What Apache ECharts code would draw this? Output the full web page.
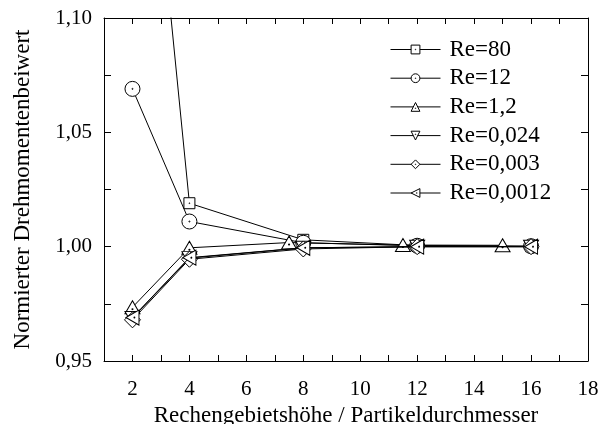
<!DOCTYPE html>
<html>
<head>
<meta charset="utf-8">
<script src="https://cdn.jsdelivr.net/npm/echarts@6/dist/echarts.min.js"></script>
<style>
html,body{margin:0;padding:0;background:#fff;}
#chart{width:608px;height:424px;}
</style>
</head>
<body>
<div id="chart"></div>
<script>
// Data
var seriesNames = ['Re=80', 'Re=12', 'Re=1,2', 'Re=0,024', 'Re=0,003', 'Re=0,0012'];
var re80    = [[2, 1.27],   [4, 1.019],  [8, 1.003],   [12, 1.0005], [16, 1.0002]];
var re12    = [[2, 1.069],  [4, 1.011],  [8, 1.0017],  [12, 1.0004], [16, 1.0002]];
var re1_2   = [[2, 0.9735], [4, 0.9995], [7.5, 1.0018],[11.5, 1.0007],[15, 1.0006]];
var re0_024 = [[2, 0.9688], [4, 0.995],  [8, 0.9995],  [12, 1.0],    [16, 1.0]];
var re0_003 = [[2, 0.968],  [4, 0.9945], [8, 0.999],   [12, 1.0],    [16, 1.0]];
var re0_0012= [[2, 0.969],  [4, 0.9952], [8, 0.9995],  [12, 1.0],    [16, 1.0]];
var xTickLabels = ['2','4','6','8','10','12','14','16','18'];
var yTickLabels = ['0,95','1,00','1,05','1,10'];

var FONT = "'Liberation Serif','Times New Roman',serif";
var dot = ' M5.35,5A0.35,0.35,0,1,1,4.65,5A0.35,0.35,0,1,1,5.35,5Z';
var symbols = [
  'path://M0,0L10,0L10,10L0,10Z' + dot,
  'path://M10,5A5,5,0,1,1,0,5A5,5,0,1,1,10,5Z' + dot,
  'path://M5,0L10,10L0,10Z M5.35,6.5A0.35,0.35,0,1,1,4.65,6.5A0.35,0.35,0,1,1,5.35,6.5Z',
  'path://M0,0L10,0L5,10Z M5.35,3.5A0.35,0.35,0,1,1,4.65,3.5A0.35,0.35,0,1,1,5.35,3.5Z',
  'path://M5,0L10,5L5,10L0,5Z' + dot,
  'path://M0,5L10,0L10,10Z M6.85,5A0.35,0.35,0,1,1,6.15,5A0.35,0.35,0,1,1,6.85,5Z'
];
var sizes = [[11,11],[15,15],[15,13],[15,13],[16,16],[13,15]];
var datasets = [re80, re12, re1_2, re0_024, re0_003, re0_0012];

var chart = echarts.init(document.getElementById('chart'));

function xFmt(v){ var s = String(v); return xTickLabels.indexOf(s) >= 0 ? s : ''; }
function yFmt(v){
  var s = v.toFixed(2).replace('.', ',');
  return (Math.round(v*1000) % 50 === 0 && yTickLabels.indexOf(s) >= 0) ? s : '';
}

var axisCommon = {
  axisLine: {show: true, onZero: false, lineStyle: {color: '#000', width: 1}},
  splitLine: {show: false}
};

var option = {
  animation: false,
  backgroundColor: '#fff',
  grid: {left: 104, right: 20, top: 18, bottom: 63, containLabel: false, outerBoundsMode: 'none'},
  legend: {
    orient: 'vertical',
    left: 390,
    top: 38,
    padding: 0,
    itemWidth: 50,
    itemHeight: 11,
    itemGap: 5.7,
    lineStyle: {color: '#000', width: 1},
    itemStyle: {color: '#fff', borderColor: '#000', borderWidth: 1},
    textStyle: {fontFamily: FONT, fontSize: 23, color: '#000', lineHeight: 22, padding: [0,0,0,4]},
    data: seriesNames
  },
  xAxis: [
    Object.assign({}, axisCommon, {
      type: 'value', min: 1, max: 18, interval: 1, position: 'bottom',
      axisTick: {show: true, inside: true, length: 6, lineStyle: {color: '#000'}},
      axisLabel: {formatter: xFmt, fontFamily: FONT, fontSize: 21, color: '#000', margin: 18, showMaxLabel: true, showMinLabel: true},
      name: 'Rechengebietshöhe / Partikeldurchmesser',
      nameLocation: 'middle', nameGap: 37,
      nameTextStyle: {fontFamily: FONT, fontSize: 23, color: '#000'}
    }),
    Object.assign({}, axisCommon, {
      type: 'value', min: 1, max: 18, interval: 1, position: 'top',
      axisTick: {show: true, inside: true, length: 6, lineStyle: {color: '#000'}},
      axisLabel: {show: false}
    })
  ],
  yAxis: [
    Object.assign({}, axisCommon, {
      type: 'value', min: 0.95, max: 1.10, interval: 0.025, position: 'left',
      axisTick: {show: true, inside: true, length: 7, lineStyle: {color: '#000'}},
      axisLabel: {formatter: yFmt, fontFamily: FONT, fontSize: 21, color: '#000', margin: 12, showMaxLabel: true, showMinLabel: true},
      name: 'Normierter Drehmomentenbeiwert',
      nameLocation: 'middle', nameGap: 70,
      nameTextStyle: {fontFamily: FONT, fontSize: 23, color: '#000'}
    }),
    Object.assign({}, axisCommon, {
      type: 'value', min: 0.95, max: 1.10, interval: 0.025, position: 'right',
      axisTick: {show: true, inside: true, length: 7, lineStyle: {color: '#000'}},
      axisLabel: {show: false}
    })
  ],
  series: seriesNames.map(function(n, i){
    return {
      name: n, type: 'line', xAxisIndex: 0, yAxisIndex: 0,
      data: datasets[i],
      clip: true,
      symbol: symbols[i], symbolSize: sizes[i], showAllSymbol: true,
      lineStyle: {color: '#000', width: 1},
      itemStyle: {color: '#fff', borderColor: '#000', borderWidth: 1},
      emphasis: {disabled: true},
      z: 2 + i
    };
  })
};
chart.setOption(option);
</script>
</body>
</html>
